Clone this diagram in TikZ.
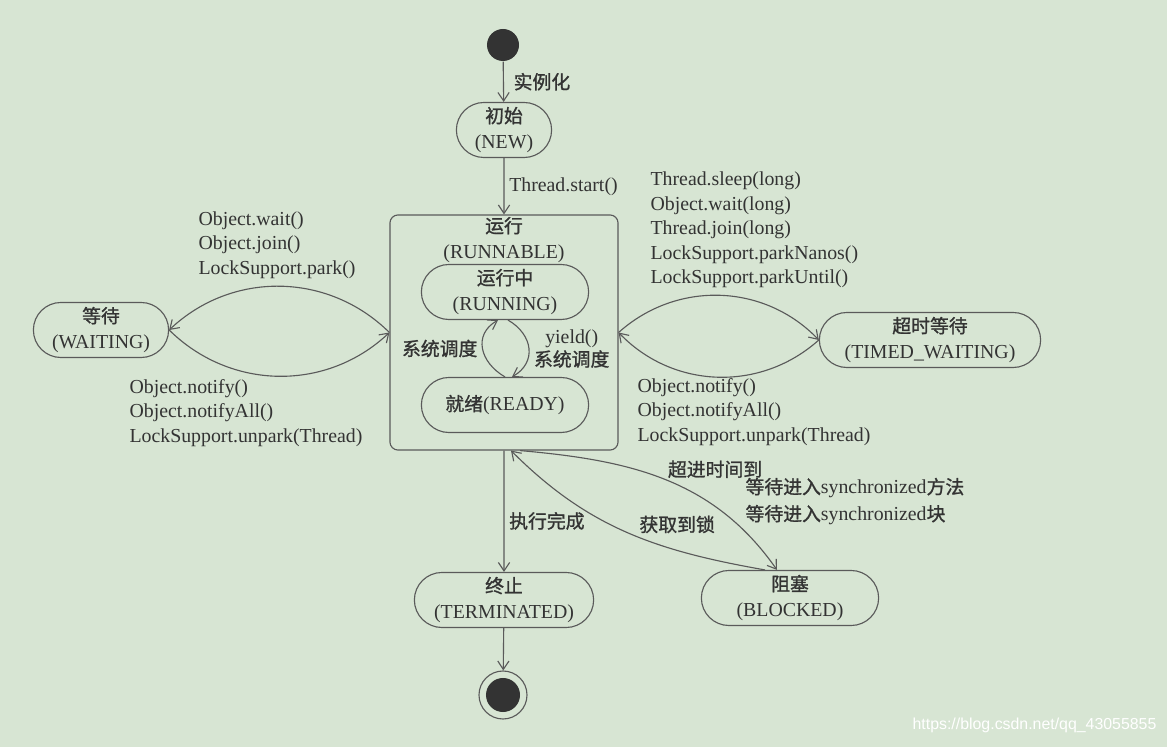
\documentclass[tikz,border=0pt]{standalone}
\usepackage{fontspec}
\setmainfont{Liberation Serif}
\newfontfamily\cjk[Scale=0.95,FakeBold=1.2]{Noto Sans CJK SC}
\newfontfamily\wmfont{Liberation Sans}
\usetikzlibrary{arrows.meta,shapes.misc}
\definecolor{bg}{HTML}{D7E5D3}
\definecolor{ink}{HTML}{333333}
\definecolor{edge}{HTML}{5A5A5A}

\begin{document}
\begin{tikzpicture}[x=0.025cm,y=-0.025cm,line width=0.8pt,
  >={Straight Barb[length=6pt,width=8pt]},
  statebox/.style={draw=edge,rounded rectangle,minimum height=1.375cm,inner sep=1pt,align=center,text=ink,font=\fontsize{14.1}{18.5}\selectfont},
  arrowline/.style={->,draw=edge},
  edgetext/.style={text=ink,font=\fontsize{14.1}{16.5}\selectfont},
  labeltext/.style={anchor=west,align=left,inner sep=0pt,text=ink,font=\fontsize{14.1}{17.4}\selectfont}]
\fill[bg] (0,0) rectangle (1167,747);
\useasboundingbox (0,0) rectangle (1167,747);

\node[circle,fill=ink,minimum size=0.8cm,inner sep=0pt] (start) at (503,45) {};
\node[statebox,minimum width=2.45cm] (new) at (504,130) {{\cjk 初始}\\(NEW)};
\node[draw=edge,rounded corners=0.2cm,minimum width=5.7cm,minimum height=5.875cm] (runnable) at (504,332.5) {};
\node[edgetext,align=center,font=\fontsize{14.1}{18.5}\selectfont] (runtitle) at (504,240) {{\cjk 运行}\\(RUNNABLE)};
\node[statebox,minimum width=4.25cm] (running) at (505,292) {{\cjk 运行中}\\(RUNNING)};
\node[statebox,minimum width=4.25cm] (ready) at (505,405) {{\cjk 就绪}(READY)};
\node[statebox,minimum width=3.45cm] (waiting) at (101,330) {{\cjk 等待}\\(WAITING)};
\node[statebox,minimum width=5.6cm] (timed) at (930,340) {{\cjk 超时等待}\\(TIMED\_WAITING)};
\node[statebox,minimum width=4.55cm] (terminated) at (504,600) {{\cjk 终止}\\(TERMINATED)};
\node[statebox,minimum width=4.5cm] (blocked) at (790,598) {{\cjk 阻塞}\\(BLOCKED)};
\node[circle,draw=edge,minimum size=1.2cm,inner sep=0pt] (end) at (503,695) {};
\fill[ink] (end.center) circle (0.425cm);

\draw[arrowline] (start) -- (new) node[edgetext,midway,right,xshift=0.125cm] {\cjk 实例化};
\draw[arrowline] (new) -- (runnable) node[edgetext,midway,right] {Thread.start()};

\draw[arrowline] (runnable.west) to[bend right=44] (waiting.east);
\draw[arrowline] (waiting.east) to[bend right=44] (runnable.west);
\draw[arrowline] (runnable.east) to[bend left=44] (timed.west);
\draw[arrowline] (timed.west) to[bend left=44] (runnable.east);

\draw[arrowline] (ready.north) to[out=150,in=-150,looseness=1.3] node[edgetext,left] {\cjk 系统调度} ([xshift=-0.175cm]running.south);
\draw[arrowline] ([xshift=0.075cm]running.south) to[out=-30,in=30,looseness=1.3] node[edgetext,right,align=center] {yield()\\{\cjk 系统调度}} ([xshift=0.175cm]ready.north);

\draw[arrowline] (runnable) -- (terminated) node[edgetext,pos=0.58,right] {\cjk 执行完成};
\draw[arrowline] (terminated) -- (end);
\draw[arrowline] ([xshift=0.4cm]runnable.south) to[out=-5,in=125] node[edgetext,pos=0.5,anchor=south west,inner sep=1pt] {\cjk 超进时间到} ([xshift=-0.325cm]blocked.north);
\draw[arrowline] ([xshift=-0.625cm]blocked.north) to[out=170,in=-45] node[edgetext,pos=0.3,above=0.3cm] {\cjk 获取到锁} ([xshift=0.175cm]runnable.south);

\node[labeltext] (waitcalls) at (198,245) {Object.wait()\\Object.join()\\LockSupport.park()};
\node[labeltext] (notifyleft) at (129,413) {Object.notify()\\Object.notifyAll()\\LockSupport.unpark(Thread)};
\node[labeltext] (timedcalls) at (650,230) {Thread.sleep(long)\\Object.wait(long)\\Thread.join(long)\\LockSupport.parkNanos()\\LockSupport.parkUntil()};
\node[labeltext] (notifyright) at (637,412) {Object.notify()\\Object.notifyAll()\\LockSupport.unpark(Thread)};
\node[labeltext,font=\fontsize{14.1}{19.2}\selectfont] (synctext) at (745,501.5) {{\cjk 等待进入}synchronized{\cjk 方法}\\{\cjk 等待进入}synchronized{\cjk 块}};

\node[anchor=east,inner sep=0pt,text=white,font=\wmfont\fontsize{11.3}{13}\selectfont] (mark) at (1157,725) {https://blog.csdn.net/qq\_43055855};
\end{tikzpicture}
\end{document}
